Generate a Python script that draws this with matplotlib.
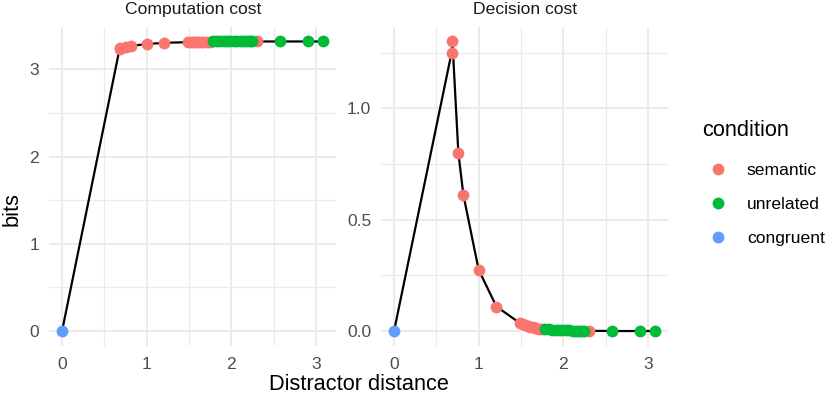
import numpy as np
import matplotlib
matplotlib.use("Agg")
import matplotlib.pyplot as plt
from matplotlib.ticker import MultipleLocator
from matplotlib.lines import Line2D

plt.rcParams["font.family"] = ["Liberation Sans", "DejaVu Sans"]

# datos
conditions = ["semantic", "unrelated", "congruent"]
colors = ["#F8766D", "#00BA38", "#619CFF"]

semantic_dist = [0.68, 0.69, 0.76, 0.82, 1.00, 1.21, 1.49, 1.52, 1.55, 1.58,
                 1.61, 1.64, 1.67, 1.71, 1.75, 2.30]
semantic_comp = [3.235, 3.24, 3.255, 3.27, 3.29, 3.305, 3.312, 3.313, 3.314, 3.315,
                 3.316, 3.317, 3.317, 3.318, 3.318, 3.32]
semantic_dec = [1.25, 1.30, 0.80, 0.61, 0.275, 0.11, 0.035, 0.031, 0.027, 0.023,
                0.020, 0.017, 0.014, 0.011, 0.009, 0.001]

unrelated_dist = [1.79, 1.83, 1.87, 1.91, 1.95, 1.99, 2.03, 2.07, 2.11, 2.15,
                  2.19, 2.22, 2.25, 2.58, 2.91, 3.09]
unrelated_comp = [3.32, 3.32, 3.32, 3.32, 3.32, 3.32, 3.32, 3.32, 3.32, 3.32,
                  3.32, 3.32, 3.32, 3.32, 3.32, 3.32]
unrelated_dec = [0.008, 0.007, 0.006, 0.005, 0.004, 0.004, 0.003, 0.003, 0.002, 0.002,
                 0.002, 0.001, 0.001, 0.0, 0.0, 0.0]

congruent_dist = [0.0]
congruent_comp = [0.0]
congruent_dec = [0.0]

panel_titles = ["Computation cost", "Decision cost"]

dist = [semantic_dist, unrelated_dist, congruent_dist]
comp = [semantic_comp, unrelated_comp, congruent_comp]
dec = [semantic_dec, unrelated_dec, congruent_dec]

fig = plt.figure(figsize=(8.29, 3.97), dpi=100)
ax1 = fig.add_axes([49 / 829, 51.5 / 397, 287.5 / 829, 318.5 / 397])
ax2 = fig.add_axes([381 / 829, 51.5 / 397, 287.5 / 829, 318.5 / 397])

grid_col = "#EBEBEB"
small = 12.6
big = 15.7

for ax, vals, title in zip([ax1, ax2], [comp, dec], panel_titles):
    x_all = np.concatenate([np.array(d) for d in dist])
    y_all = np.concatenate([np.array(v) for v in vals])
    order = np.argsort(x_all, kind="stable")
    ax.plot(x_all[order], y_all[order], color="black", lw=1.6, zorder=2)
    for d, v, c in zip(dist, vals, colors):
        ax.scatter(d, v, s=72, color=c, linewidths=0, zorder=3)

    ax.set_title(title, fontsize=small, color="#1A1A1A", pad=9)
    for s in ax.spines.values():
        s.set_visible(False)
    ax.set_xticks([0, 1, 2, 3])
    ax.xaxis.set_minor_locator(MultipleLocator(0.5))
    ax.grid(True, which="major", color=grid_col, lw=1.5)
    ax.grid(True, which="minor", color=grid_col, lw=0.8)
    ax.set_axisbelow(True)
    ax.tick_params(which="both", length=0, labelsize=small, labelcolor="#4D4D4D")
    ax.tick_params(axis="x", pad=8)
    ax.tick_params(axis="y", pad=7)

ax1.set_yticks([0, 1, 2, 3])
ax1.yaxis.set_minor_locator(MultipleLocator(0.5))
ax2.set_yticks([0.0, 0.5, 1.0])
ax2.set_yticklabels(["0.0", "0.5", "1.0"])
ax2.yaxis.set_minor_locator(MultipleLocator(0.25))

fig.text(358.7 / 829, 12 / 397, "Distractor distance", fontsize=big, ha="center", va="center")
fig.text(12 / 829, 188 / 397, "bits", fontsize=big, rotation=90, ha="center", va="center")

# leyenda
fig.text(702 / 829, 1 - 130 / 397, "condition", fontsize=big, ha="left", va="center")
handles = [Line2D([], [], ls="none", marker="o", markersize=8.5, color=c, markeredgewidth=0)
           for c in colors]
fig.legend(handles, conditions, loc="upper left",
           bbox_to_anchor=(702 / 829, 1 - 163 / 397), frameon=False,
           fontsize=small, borderpad=0, borderaxespad=0, handlelength=1.83,
           handletextpad=0.74, labelspacing=1.07)

fig.savefig("out.png", dpi=100, facecolor="white")
